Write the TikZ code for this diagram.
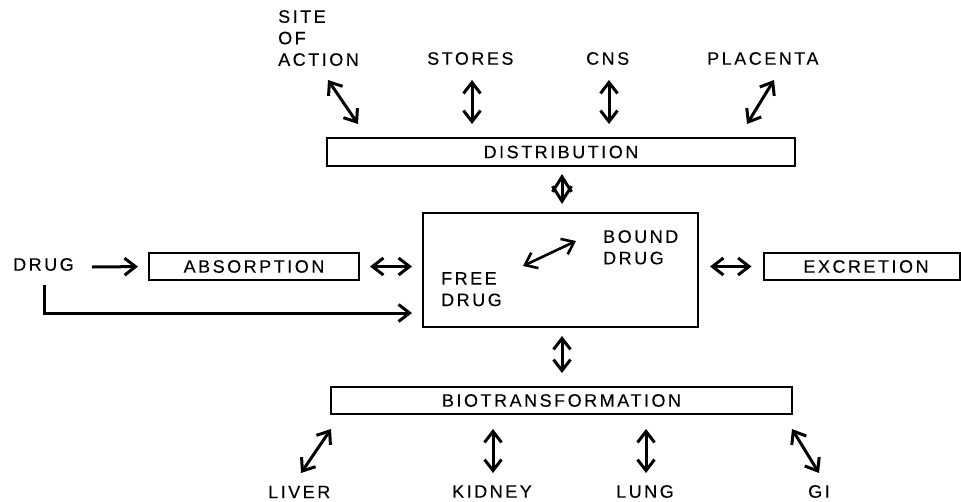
\documentclass[tikz,border=0pt]{standalone}
\usepackage{fontspec}
\usetikzlibrary{arrows.meta}
\newfontfamily\lab[LetterSpace=14,FakeBold=0.12]{Liberation Sans}
\begin{document}
\begin{tikzpicture}[x=1pt,y=-1pt,
  txt/.style={inner sep=0pt, anchor=west, font=\lab\fontsize{18}{21.5}\selectfont},
  mtxt/.style={inner sep=0pt, anchor=north west, align=left, font=\lab\fontsize{18}{21.5}\selectfont},
  boxn/.style={draw, line width=2pt, inner sep=0pt, font=\lab\fontsize{18}{21.5}\selectfont},
  conn/.style={line width=3pt, -{Straight Barb[length=11pt,width=17pt]}},
  dbl/.style={line width=3pt, {Straight Barb[length=11pt,width=17pt]}-{Straight Barb[length=11pt,width=17pt]}}]
\useasboundingbox (0,0) rectangle (961,501);

% boxes
\node[boxn, minimum width=468pt, minimum height=28pt] (dist) at (561,152) {DISTRIBUTION};
\node[boxn, minimum width=210pt, minimum height=27pt] (abs) at (254,266.5) {ABSORPTION};
\node[boxn, minimum width=196pt, minimum height=27pt] (exc) at (861.5,266.5) {\hspace*{9pt}EXCRETION};
\node[boxn, minimum width=461pt, minimum height=27pt] (bio) at (561.5,400.5) {BIOTRANSFORMATION};
\node[draw, line width=2pt, minimum width=275pt, minimum height=114pt] (core) at (560.5,270) {};

% labels
\node[mtxt] (site) at (278,10) {SITE\\OF\\ACTION};
\node[txt] (stores) at (427,58.5) {STORES};
\node[txt] (cns) at (586,58.5) {CNS};
\node[txt] (plac) at (707,58.5) {PLACENTA};
\node[txt] (drug) at (13,264.5) {DRUG};
\node[mtxt] (free) at (441,272) {FREE\\DRUG};
\node[mtxt] (bound) at (603,230) {BOUND\\DRUG};
\node[txt] (liver) at (268,492) {LIVER};
\node[txt] (kidney) at (452,491.5) {KIDNEY};
\node[txt] (lung) at (616,491.5) {LUNG};
\node[txt] (gi) at (808,491.5) {GI};

% arrow end points
\coordinate (s1) at (328,80);  \coordinate (s2) at (358,124);
\coordinate (t1) at (472,80);  \coordinate (t2) at (472,124);
\coordinate (c1) at (609,80);  \coordinate (c2) at (609,124);
\coordinate (p1) at (774,80);  \coordinate (p2) at (747,124);
\coordinate (l1) at (331,429); \coordinate (l2) at (301,473);
\coordinate (k1) at (493,429); \coordinate (k2) at (493,473);
\coordinate (u1) at (646,429); \coordinate (u2) at (646,473);
\coordinate (g1) at (792,429); \coordinate (g2) at (819,473);
\coordinate (f1) at (523,266); \coordinate (f2) at (576,241);

\draw[dbl] (s1) -- (s2);
\draw[dbl] (t1) -- (t2);
\draw[dbl] (c1) -- (c2);
\draw[dbl] (p1) -- (p2);
\draw[dbl] (l1) -- (l2);
\draw[dbl] (k1) -- (k2);
\draw[dbl] (u1) -- (u2);
\draw[dbl] (g1) -- (g2);
\draw[dbl, line width=2.6pt] (f1) -- (f2);

\draw[line width=3pt, {Straight Barb[length=15pt,width=19pt]}-{Straight Barb[length=15pt,width=19pt]}, shorten <=7pt, shorten >=8pt] (dist.south -| 562,0) -- (core.north -| 562,0);
\draw[dbl, shorten <=8pt, shorten >=13pt] (core.south -| 562,0) -- (bio.north -| 562,0);
\draw[dbl, shorten <=10pt, shorten >=10pt] (abs.east) -- (core.west |- abs.east);
\draw[dbl, shorten <=11pt, shorten >=11pt] (core.east |- exc.west) -- (exc.west);
\draw[conn, shorten >=10pt] (92,267) -- (abs.west);
\draw[conn, shorten <=14pt, shorten >=10pt] (drug.south -| 44,0) |- ([yshift=-43pt]core.west);
\end{tikzpicture}
\end{document}
